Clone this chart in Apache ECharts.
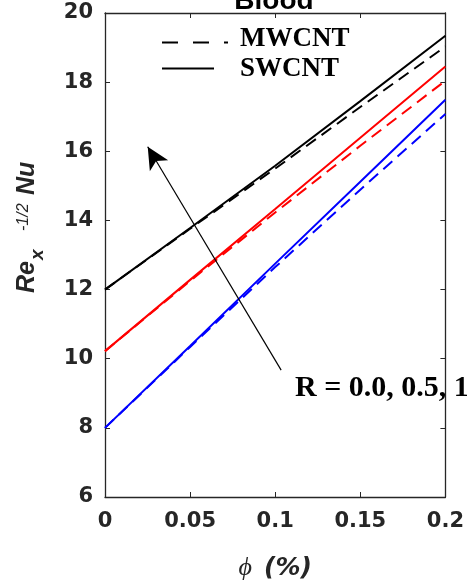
<!DOCTYPE html>
<html>
<head>
<meta charset="utf-8">
<script src="https://cdn.jsdelivr.net/npm/echarts@6/dist/echarts.min.js"></script>
<style>
  html, body { margin: 0; padding: 0; background: #fff; }
  #chart { width: 467px; height: 586px; }
</style>
</head>
<body>
<div id="chart"></div>
<script>
// Volume fraction of nanoparticles (%)
const phi = [0, 0.05, 0.1, 0.15, 0.2];

// Local Nusselt number Re_x^{-1/2} Nu for R = 0.0, 0.5, 1
const swR0 = [8.0, 10.37, 12.75, 15.12, 17.49];
const mwR0 = [8.0, 10.34, 12.65, 14.89, 17.08];
const swR05 = [10.22, 12.28, 14.33, 16.39, 18.45];
const mwR05 = [10.22, 12.25, 14.23, 16.16, 18.04];
const swR1 = [12.0, 13.78, 15.58, 17.45, 19.34];
const mwR1 = [12.0, 13.76, 15.50, 17.28, 19.03];

// Tick labels
const xTickLabels = ['0', '0.05', '0.1', '0.15', '0.2'];
const yTicks = [6, 8, 10, 12, 14, 16, 18, 20];

// Arrow showing increasing R: from tail to head in data coordinates
const arrowTail = [0.1035, 9.67];
const arrowHead = [0.0251, 16.13];

const axisColor = '#262626';
const tickFont = 'DejaVu Sans, Liberation Sans, Arial, sans-serif';
const pair = (ys) => phi.map((x, i) => [x, ys[i]]);

function lineSeries(name, ys, color, dashed) {
  return {
    name: name,
    type: 'line',
    data: pair(ys),
    showSymbol: false,
    symbol: 'none',
    smooth: false,
    silent: true,
    lineStyle: { color: color, width: 2, type: dashed ? [12, 7] : 'solid' },
    z: dashed ? 3 : 4
  };
}

const chart = echarts.init(document.getElementById('chart'), null, { renderer: 'canvas' });

const baseAxis = {
  axisLine: { show: true, onZero: false, lineStyle: { color: axisColor, width: 1.3 } },
  axisTick: { show: true, inside: true, length: 5, lineStyle: { color: axisColor, width: 1 } },
  splitLine: { show: false }
};

const series = [
  lineSeries('MWCNT R0', mwR0, '#0000ff', true),
  lineSeries('SWCNT R0', swR0, '#0000ff', false),
  lineSeries('MWCNT R05', mwR05, '#ff0000', true),
  lineSeries('SWCNT R05', swR05, '#ff0000', false),
  lineSeries('MWCNT R1', mwR1, '#000000', true),
  lineSeries('SWCNT R1', swR1, '#000000', false)
];

// Arrow annotation drawn as a mark line in data coordinates
series.push({
  type: 'line',
  data: [],
  silent: true,
  markLine: {
    silent: true,
    animation: false,
    symbol: ['none', 'arrow'],
    symbolSize: [16, 22],
    label: { show: false },
    lineStyle: { color: '#000', width: 1.2, type: 'solid' },
    data: [[{ coord: arrowTail }, { coord: arrowHead }]]
  }
});

// Text element centred vertically on y
const txt = (text, x, y, font, fill) => ({
  type: 'text', x: x, y: y, silent: true,
  style: { text: text, fill: fill || '#000', verticalAlign: 'middle', textVerticalAlign: 'middle', font: font }
});

const yNameFont = '"Liberation Sans", Arial, sans-serif';

chart.setOption({
  animation: false,
  backgroundColor: '#fff',
  grid: { left: 105, right: 20, top: 13, bottom: 88, containLabel: false },
  xAxis: [
    Object.assign({}, baseAxis, {
      type: 'value', min: 0, max: 0.2, interval: 0.05, position: 'bottom',
      axisLabel: {
        color: axisColor, fontSize: 21, fontWeight: 'bold',
        fontFamily: tickFont, margin: 14,
        formatter: (v) => xTickLabels[Math.round(v / 0.05)]
      },
      name: '{p|\u03D5}{b|(%)}',
      nameLocation: 'middle',
      nameGap: 58,
      nameTextStyle: {
        rich: {
          p: { fontSize: 26, fontStyle: 'italic', fontFamily: 'Liberation Serif, DejaVu Serif, serif', color: '#262626', padding: [0, 12, 0, 0] },
          b: { fontSize: 25, fontStyle: 'italic', fontWeight: 'bold', fontFamily: tickFont, color: '#262626' }
        }
      }
    }),
    Object.assign({}, baseAxis, {
      type: 'value', min: 0, max: 0.2, interval: 0.05, position: 'top',
      axisLabel: { show: false }
    })
  ],
  yAxis: [
    Object.assign({}, baseAxis, {
      type: 'value', min: 6, max: 20, interval: 2, position: 'left',
      axisLabel: {
        color: axisColor, fontSize: 21, fontWeight: 'bold',
        fontFamily: tickFont, margin: 12,
        formatter: (v) => (yTicks.indexOf(v) >= 0 ? String(v) : '')
      }
    }),
    Object.assign({}, baseAxis, {
      type: 'value', min: 6, max: 20, interval: 2, position: 'right',
      axisLabel: { show: false }
    })
  ],
  series: series,
  graphic: [
    // Title, partly above the canvas edge
    {
      type: 'text', x: 274, y: 1, silent: true,
      style: {
        text: 'Blood', fill: '#000', align: 'center', textAlign: 'center',
        verticalAlign: 'middle', textVerticalAlign: 'middle',
        font: 'bold 28px "Liberation Sans", Arial, sans-serif'
      }
    },
    // Legend
    {
      type: 'line', silent: true,
      shape: { x1: 162, y1: 42.5, x2: 228, y2: 42.5 },
      style: { stroke: '#000', lineWidth: 2.2, lineDash: [16, 15] }
    },
    {
      type: 'line', silent: true,
      shape: { x1: 162, y1: 68.5, x2: 214, y2: 68.5 },
      style: { stroke: '#000', lineWidth: 2.2 }
    },
    txt('MWCNT', 240, 39.5, 'bold 27px "Liberation Serif", "Times New Roman", serif'),
    txt('SWCNT', 240, 69.5, 'bold 27px "Liberation Serif", "Times New Roman", serif'),
    // Parameter annotation
    txt('R = 0.0, 0.5, 1', 295, 388.5, 'bold 30px "Liberation Serif", "Times New Roman", serif'),
    // Y axis name: Re_x^{-1/2} Nu, rotated to read bottom-to-top
    {
      type: 'group', x: 37, y: 293, rotation: Math.PI / 2, silent: true,
      children: [
        txt('Re', 0, -9.5, 'italic bold 25px ' + yNameFont, '#262626'),
        txt('x', 33, 0.5, 'italic bold 19px ' + yNameFont, '#262626'),
        txt('-1/2', 62, -13, 'italic 16px ' + yNameFont, '#262626'),
        txt('Nu', 98, -9.5, 'italic bold 25px ' + yNameFont, '#262626')
      ]
    }
  ]
});
</script>
</body>
</html>
